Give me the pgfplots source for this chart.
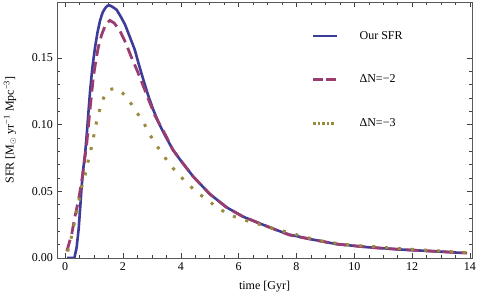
\documentclass[border=0pt]{standalone}
\usepackage{fontspec}
\setmainfont{Liberation Serif}
\usepackage{pgfplots}
\pgfplotsset{compat=1.18}
\definecolor{mblue}{rgb}{0.24,0.24,0.6}
\definecolor{mmag}{rgb}{0.6,0.24,0.442}
\definecolor{mgold}{rgb}{0.6,0.547,0.24}
\begin{document}
\fontsize{12bp}{14bp}\selectfont
\begin{tikzpicture}
\begin{axis}[
  at={(0,0)}, anchor=south west,
  scale only axis, width=415bp, height=256bp,
  xmin=-0.28, xmax=14.07, ymin=0, ymax=0.1918,
  xtick={0,2,...,14}, minor x tick num=3,
  ytick={0,0.05,0.1,0.15}, minor y tick num=4,
  scaled y ticks=false,
  /pgf/number format/assume math mode=true,
  yticklabel style={/pgf/number format/.cd, fixed, fixed zerofill, precision=2},
  major tick length=5bp, minor tick length=2.8bp,
  every tick/.style={black!75, line width=0.5bp},
  axis line style={black!65, line width=0.6bp},
  xlabel={time [Gyr]},
  ylabel={SFR [M$_\odot$ yr\textsuperscript{−1} Mpc\textsuperscript{−3}]},
  every axis x label/.style={at={(rel axis cs:0.5,0)}, anchor=center, yshift=-29bp},
  every axis y label/.style={at={(rel axis cs:0,0.5)}, anchor=center, rotate=90, yshift=47bp},
  legend style={at={(rel axis cs:0.614,0.887)}, anchor=north west, draw=none, fill=none,
    inner sep=0pt, row sep=34bp, column sep=22bp, nodes={inner sep=0pt}},
  legend cell align=left,
]
\addplot[mblue, line width=2.6bp, line join=round,
  legend image code/.code={\fill[mblue, draw=none] (0bp,-1.3bp) rectangle (24bp,1.3bp);}] coordinates {
(0.06,0)(0.32,0)(0.40,0.008)(0.47,0.022)(0.53,0.040)(0.57,0.053)(0.63,0.067)(0.70,0.080)(0.75,0.093)(0.80,0.107)(0.86,0.124)(0.94,0.142)(1.03,0.157)(1.12,0.169)(1.21,0.178)(1.30,0.184)(1.38,0.187)(1.46,0.189)(1.55,0.1892)(1.65,0.188)(1.78,0.186)(1.92,0.181)(2.07,0.175)(2.25,0.165)(2.41,0.156)(2.55,0.145)(2.70,0.134)(2.87,0.122)(3.05,0.111)(3.22,0.102)(3.45,0.092)(3.73,0.081)(4.0,0.073)(4.43,0.061)(5.0,0.048)(5.58,0.038)(6.15,0.031)(6.72,0.026)(7.3,0.021)(7.76,0.0175)(8.56,0.0138)(9.37,0.0105)(10.5,0.008)(11.66,0.0063)(12.8,0.005)(13.74,0.0038)
};
\addlegendentry{Our SFR}
\addplot[mmag, line width=2.8bp, dash pattern=on 12bp off 6bp,
  legend image code/.code={\draw[mmag, line width=2.6bp] (0bp,0bp) -- (10bp,0bp) (13bp,0bp) -- (23bp,0bp);}] coordinates {
(0.06,0.005)(0.23,0.018)(0.34,0.031)(0.46,0.043)(0.57,0.057)(0.63,0.066)(0.75,0.086)(0.86,0.111)(0.98,0.136)(1.08,0.150)(1.15,0.158)(1.26,0.167)(1.40,0.175)(1.55,0.178)(1.70,0.176)(1.9,0.170)(2.1,0.161)(2.3,0.150)(2.5,0.140)(2.7,0.129)(2.9,0.118)(3.1,0.107)(3.3,0.099)(3.5,0.091)(3.73,0.081)(4.0,0.073)(4.43,0.061)(5.0,0.048)(5.58,0.038)(6.15,0.031)(6.72,0.026)(7.3,0.021)(7.76,0.0172)(8.56,0.0138)(9.37,0.0105)(10.5,0.008)(11.66,0.0063)(12.8,0.005)(13.9,0.0037)
};
\addlegendentry{ΔN=−2}
\addplot[mgold, line width=3bp, dash pattern=on 3bp off 10bp,
  legend image code/.code={\draw[mgold, line width=2.5bp, dash pattern=on 2.5bp off 2bp] (0bp,0bp) -- (22bp,0bp);}] coordinates {
(0.09,0.005)(0.21,0.015)(0.31,0.025)(0.40,0.034)(0.48,0.043)(0.57,0.053)(0.69,0.062)(0.78,0.071)(0.89,0.081)(0.98,0.090)(1.06,0.0995)(1.17,0.109)(1.29,0.118)(1.40,0.123)(1.51,0.126)(1.70,0.127)(1.87,0.126)(2.16,0.120)(2.41,0.111)(2.68,0.103)(2.89,0.094)(3.11,0.086)(3.37,0.078)(3.62,0.070)(3.91,0.063)(4.22,0.056)(4.54,0.0495)(4.89,0.044)(5.25,0.038)(5.63,0.033)(6.03,0.0295)(6.44,0.027)(6.9,0.024)(7.3,0.0215)(7.76,0.019)(8.18,0.0163)(8.62,0.014)(9.04,0.012)(9.48,0.0108)(9.92,0.0095)(10.37,0.009)(10.8,0.0083)(11.24,0.0075)(11.69,0.007)(12.13,0.0063)(12.56,0.0058)(13.0,0.0053)(13.45,0.0045)(13.9,0.004)
};
\addlegendentry{ΔN=−3}
\end{axis}
\pgfresetboundingbox
\path (-57bp,-45bp) rectangle (428bp,258bp);
\end{tikzpicture}
\end{document}
